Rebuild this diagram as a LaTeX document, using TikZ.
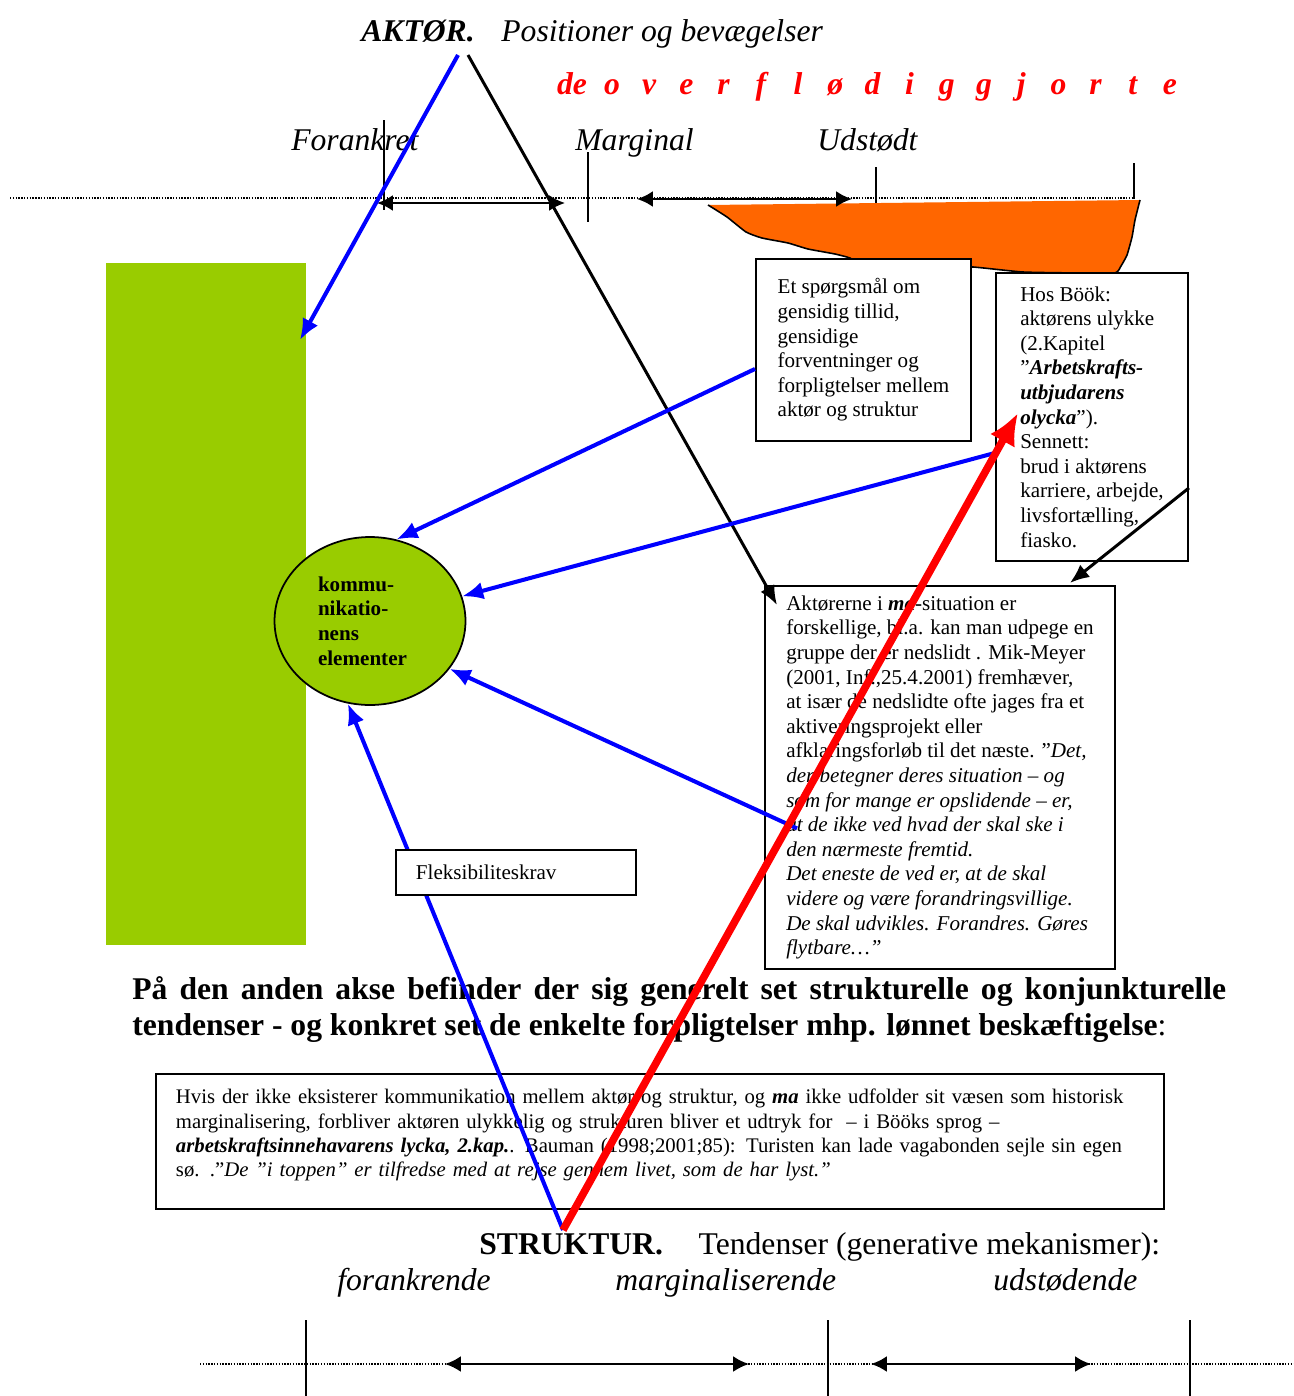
\documentclass[tikz,border=0pt]{standalone}
\usepackage{fontspec}
\setmainfont{Liberation Serif}
\usepackage{tikz}
\usetikzlibrary{arrows.meta}
\usetikzlibrary{calc}
\usetikzlibrary{positioning}
\usetikzlibrary{shapes}
\definecolor{C0}{HTML}{0000FF}
\definecolor{C1}{HTML}{FF0000}
\definecolor{C2}{HTML}{99CC00}
\definecolor{C3}{HTML}{FF6600}
\tikzstyle{textbox} = [draw, line width=1.1pt, fill=white, align=left, anchor=north west, font=\fontsize{12}{14}\selectfont]
\tikzstyle{heading} = [inner sep=0, anchor=base west, font=\fontsize{18}{21}\selectfont]
\tikzstyle{redletter} = [inner sep=0, anchor=base, text=C1, font=\bfseries\itshape\fontsize{18}{21}\selectfont]
\tikzstyle{tickline} = [line width=0.8pt]
\tikzstyle{dotline} = [line width=0.6pt, dash pattern=on 0.8pt off 0.8pt]
\tikzstyle{dblarrow} = [line width=1.3pt, {Latex[length=9pt,width=9pt]}-{Latex[length=9pt,width=9pt]}]
\tikzstyle{bluearrow} = [draw=C0, line width=2.3pt, -{Latex[length=12pt,width=10pt]}]
\tikzstyle{blackarrow} = [draw=black, line width=1.7pt, -{Latex[length=11pt,width=9pt]}]
\tikzstyle{redarrow} = [draw=C1, line width=4.3pt, -{Latex[length=18pt,width=16pt]}]

\begin{document}
\begin{tikzpicture}[x=0.02cm, y=-0.02cm]
	\useasboundingbox (0,0) rectangle (1294,1396);
	
	% green bar and orange field
	\fill[C2] (106,263) rectangle (306,945);
	\fill[C3] plot[smooth, tension=0.3] coordinates {(708,205) (727,217) (746,232) (762,238) (788,243) (808,249) (835,254) (850,258) (858,264) (870,259) (919,265) (973,267) (1023,272) (1080,273) (1115,273) (1121,266) (1127,255) (1132,237) (1135,220) (1140,200)} -- cycle ;
	\draw[line width=0.9pt] plot[smooth, tension=0.3] coordinates {(708,205) (727,217) (746,232) (762,238) (788,243) (808,249) (835,254) (850,258) (858,264) (870,259) (919,265) (973,267) (1023,272) (1080,273) (1115,273) (1121,266) (1127,255) (1132,237) (1135,220) (1140,200)} ;
	
	% upper axis
	\draw[dotline] (10,198) -- (1134,198) ;
	\foreach \x/\a/\b in {384/120/210, 588/152/222, 876/167/203, 1134/163/199}
	{
		\draw[tickline] (\x,\a) -- (\x,\b) ;
	}
	\draw[dblarrow] (377,203) -- (565,203) ;
	\draw[dblarrow] (637,199) -- (852,199) ;
	
	\node[heading] (akt) at (361,41) {\textbf{\textit{AKTØR.}}} ;
	\node[heading, base right=0.52cm of akt] (pos) {\textit{Positioner og bevægelser}} ;
	
	\node[redletter] (de) at (572,94) {de} ;
	\foreach \c [count=\i] in {o,v,e,r,f,l,ø,d,i,g,g,j,o,r,t,e}
	{
		\node[redletter] (red\i) at ({574.8+37.2*\i},94) {\c} ;
	}
	
	\node[heading] (foran) at (291,150) {\textit{Forankret}} ;
	\node[heading] (marg) at (575,150) {\textit{Marginal}} ;
	\node[heading] (udst) at (817,150) {\textit{Udstødt}} ;
	
	% ellipse and boxes
	\node[ellipse, draw, line width=1pt, fill=C2, minimum width=3.82cm, minimum height=3.36cm, inner sep=0, text width=2.08cm, align=left, font=\bfseries\fontsize{12}{14}\selectfont] (komm) at (370,621) {kommu-\\nikatio-\\nens\\elementer} ;
	
	\node[textbox, minimum width=4.3cm, minimum height=3.64cm] (tillid) at (755,258) {Et spørgsmål om\\gensidig tillid,\\gensidige\\forventninger og\\forpligtelser mellem\\aktør og struktur} ;
	
	\node[textbox, minimum width=3.84cm, minimum height=5.76cm] (boeoek) at (995,272) {Hos Böök:\\aktørens ulykke\\(2.Kapitel\\”\textbf{\textit{Arbetskrafts-}}\\\textbf{\textit{utbjudarens}}\\\textbf{\textit{olycka}}”).\\Sennett:\\brud i aktørens\\karriere, arbejde,\\livsfortælling,\\fiasko.} ;
	
	\node[textbox, minimum width=7cm, minimum height=7.66cm] (masit) at (764,585) {Aktørerne i \textbf{\textit{ma}}-situation er\\forskellige, bl.a. kan man udpege en\\gruppe der er nedslidt . Mik-Meyer\\(2001, Inf.,25.4.2001) fremhæver,\\at især de nedslidte ofte jages fra et\\aktiveringsprojekt eller\\afklaringsforløb til det næste. ”\textit{Det,}\\\textit{der betegner deres situation – og}\\\textit{som for mange er opslidende – er,}\\\textit{at de ikke ved hvad der skal ske i}\\\textit{den nærmeste fremtid.}\\\textit{Det eneste de ved er, at de skal}\\\textit{videre og være forandringsvillige.}\\\textit{De skal udvikles. Forandres. Gøres}\\\textit{flytbare…”}} ;
	
	\node[textbox, text width=19.36cm, inner xsep=0.4cm, minimum height=2.7cm, font=\fontsize{11.8}{13.8}\selectfont] (hvis) at (155,1073) {Hvis der ikke eksisterer kommunikation mellem aktør og struktur, og \textbf{\textit{ma}} ikke udfolder sit væsen som historisk\\marginalisering, forbliver aktøren ulykkelig og strukturen bliver et udtryk for \ – i Bööks sprog –\\\textbf{\textit{arbetskraftsinnehavarens lycka, 2.kap.}}. Bauman (1998;2001;85): Turisten kan lade vagabonden sejle sin egen\\sø. .”\textit{De ”i toppen” er tilfredse med at rejse gennem livet, som de har lyst.”}\\[-4pt]\mbox{}} ;
	
	\node[anchor=north west, inner sep=0, text width=21.88cm, align=justify, font=\bfseries\fontsize{18}{20.5}\selectfont] (akse) at (132,976) {På den anden akse befinder der sig generelt set strukturelle og konjunkturelle\linebreak tendenser - og konkret set de enkelte forpligtelser mhp. lønnet beskæftigelse\textmd{:}} ;
	
	% lower axis
	\node[heading] (strukt) at (479,1254) {\textbf{STRUKTUR.}} ;
	\node[heading, base right=0.7cm of strukt] (tend) {Tendenser (generative mekanismer):} ;
	\node[heading] (fork) at (337,1290) {\textit{forankrende}} ;
	\node[heading] (margr) at (615,1290) {\textit{marginaliserende}} ;
	\node[heading] (udstd) at (993,1290) {\textit{udstødende}} ;
	
	\draw[dotline] (200,1364) -- (1294,1364) ;
	\foreach \x in {306, 828, 1190}
	{
		\draw[tickline] (\x,1320) -- (\x,1396) ;
	}
	\draw[dblarrow] (445,1364) -- (749,1364) ;
	\draw[dblarrow] (871,1364) -- (1091,1364) ;
	
	% connectors
	\coordinate (aktB) at (458,55) ;
	\coordinate (aktS) at (468,55) ;
	\coordinate (struktU) at (563,1230) ;
	\coordinate (bar) at (300,340) ;
	
	\draw[bluearrow] (aktB) -- (bar) ;
	\draw[blackarrow] (aktS) -- ($(masit.north west)+(13,20)$) ;
	\draw[blackarrow] ($(boeoek.east)+(0,71)$) -- ($(masit.north east)+(-46,-2)$) ;
	\draw[bluearrow] ($(tillid.west)+(0,19)$) -- (komm.72) ;
	\draw[bluearrow] ($(boeoek.west)+(0,36)$) -- (komm.15) ;
	\draw[bluearrow] ($(masit.west)+(33,51)$) -- (komm.-31) ;
	\draw[bluearrow] (struktU) -- (komm.-105) ;
	\draw[redarrow] (struktU) -- ($(boeoek.north west)+(23,141)$) ;
	
	\node[textbox, text width=4cm, inner xsep=0.4cm, minimum height=0.9cm] (fleks) at (395,849) {Fleksibiliteskrav} ;
\end{tikzpicture}
\end{document}
